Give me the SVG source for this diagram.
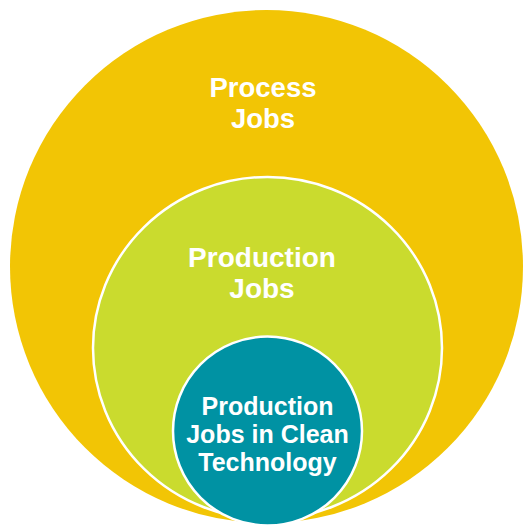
<svg xmlns="http://www.w3.org/2000/svg" width="524" height="525" viewBox="0 0 524 525">
  <style>
    .lbl { font-family: "Liberation Sans", Arial, sans-serif; font-weight: bold; fill: #ffffff; text-anchor: middle; }
    .ring { stroke: #ffffff; stroke-width: 2.5; }
  </style>
  <rect width="524" height="525" fill="#ffffff"/>
  <g id="process-jobs">
    <circle cx="266.5" cy="266.5" r="256.5" fill="#F2C505"/>
    <text class="lbl" font-size="27.5" x="263" y="97">Process</text>
    <text class="lbl" font-size="27.5" x="263" y="128">Jobs</text>
  </g>
  <g id="production-jobs">
    <ellipse class="ring" cx="267.5" cy="348" rx="174.5" ry="171" fill="#CADB2E"/>
    <text class="lbl" font-size="28" x="262" y="267">Production</text>
    <text class="lbl" font-size="28" x="262" y="298">Jobs</text>
  </g>
  <g id="clean-tech-jobs">
    <circle class="ring" cx="267.5" cy="431" r="94.5" fill="#0092A3"/>
    <text class="lbl" font-size="25" x="267.5" y="415">Production</text>
    <text class="lbl" font-size="25" x="267.5" y="443">Jobs in Clean</text>
    <text class="lbl" font-size="25" x="267.5" y="471">Technology</text>
  </g>
</svg>
